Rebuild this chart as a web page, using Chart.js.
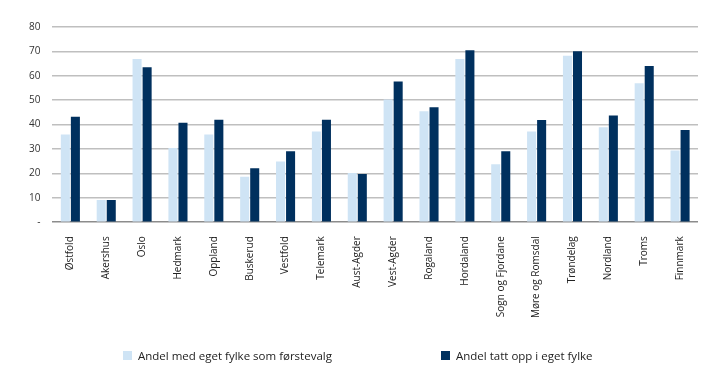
<!DOCTYPE html>
<html>
<head>
<meta charset="utf-8">
<script src="https://cdn.jsdelivr.net/npm/chart.js@4/dist/chart.umd.min.js"></script>
<style>
  body { margin: 0; background: #fff; }
  #wrap { position: relative; width: 719px; height: 383px; }
  #legend { position: absolute; top: 348px; left: 0; width: 719px; font-family: "Liberation Sans Narrow", "Open Sans", sans-serif; font-size: 11.5px; color: #222; }
  .item { position: absolute; display: flex; align-items: center; }
  .box { width: 9px; height: 9px; margin-right: 6px; }
</style>
</head>
<body>
<div id="wrap">
  <canvas id="chart" width="719" height="383"></canvas>
  <div id="legend"></div>
</div>
<script>
// data
const fylker = ['Østfold', 'Akershus', 'Oslo', 'Hedmark', 'Oppland', 'Buskerud', 'Vestfold', 'Telemark', 'Aust-Agder', 'Vest-Agder', 'Rogaland', 'Hordaland', 'Sogn og Fjordane', 'Møre og Romsdal', 'Trøndelag', 'Nordland', 'Troms', 'Finnmark'];
const forstevalg = [36, 9.1, 66.9, 30.4, 36, 18.6, 24.9, 37.2, 20.2, 50.3, 45.5, 66.9, 23.8, 37.2, 68.2, 38.9, 57, 29.4];
const tattOpp = [43.2, 9.1, 63.5, 40.8, 42, 22.1, 29.1, 42, 19.8, 57.7, 47.1, 70.5, 29.1, 41.9, 70.1, 43.7, 64, 37.8];
const serieNavn = ['Andel med eget fylke som førstevalg', 'Andel tatt opp i eget fylke'];
const farger = ['#cfe4f5', '#00305e'];

const ctx = document.getElementById('chart').getContext('2d');
new Chart(ctx, {
    type: 'bar',
    data: {
        labels: fylker,
        datasets: [
            {
                label: serieNavn[0],
                data: forstevalg,
                backgroundColor: farger[0],
                barPercentage: 0.9,
                categoryPercentage: 0.56
            },
            {
                label: serieNavn[1],
                data: tattOpp,
                backgroundColor: farger[1],
                barPercentage: 0.9,
                categoryPercentage: 0.56
            }
        ]
    },
    options: {
        responsive: false,
        animation: false,
        layout: {
            padding: { left: 17, right: 21, top: 27, bottom: 59 }
        },
        plugins: {
            legend: { display: false },
            tooltip: { enabled: false }
        },
        scales: {
            y: {
                min: 0,
                max: 80,
                ticks: {
                    stepSize: 10,
                    padding: 12,
                    color: '#333',
                    font: { family: 'Open Sans', size: 10 },
                    callback: (v) => v === 0 ? '-' : v
                },
                grid: {
                    color: (c) => c.tick.value === 0 ? '#8c8c8c' : '#bfbfbf',
                    lineWidth: 1.5,
                    drawTicks: false
                },
                border: { display: false }
            },
            x: {
                grid: { display: false },
                border: { display: false },
                ticks: {
                    minRotation: 90,
                    maxRotation: 90,
                    padding: 6,
                    color: '#222',
                    font: { family: 'Open Sans', size: 10 }
                }
            }
        }
    }
});

// legend
const legend = document.getElementById('legend');
const posisjoner = [123, 441];
serieNavn.forEach((navn, i) => {
    const el = document.createElement('div');
    el.className = 'item';
    el.style.left = posisjoner[i] + 'px';
    el.innerHTML = '<span class="box" style="background:' + farger[i] + '"></span><span>' + navn + '</span>';
    legend.appendChild(el);
});
</script>
</body>
</html>
